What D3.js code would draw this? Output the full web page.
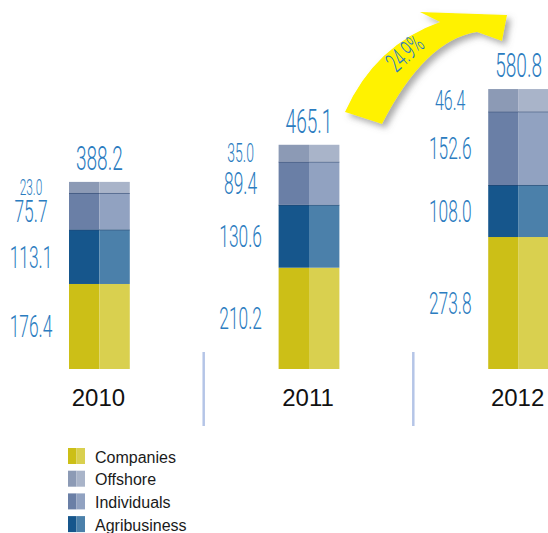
<!DOCTYPE html>
<html>
<head>
<meta charset="utf-8">
<script src="https://cdn.jsdelivr.net/npm/d3@7"></script>
<style>
  body { margin: 0; background: #fff; }
  svg { display: block; }
</style>
</head>
<body>
<svg width="548" height="533"></svg>
<script>
// data
var years = ["2010", "2011", "2012"];
var stackOrder = ["Companies", "Agribusiness", "Individuals", "Offshore"];
var legendOrder = ["Companies", "Offshore", "Individuals", "Agribusiness"];
var companies = [176.4, 210.2, 273.8];
var agribusiness = [113.1, 130.6, 108.0];
var individuals = [75.7, 89.4, 152.6];
var offshore = [23.0, 35.0, 46.4];
var totals = ["388.2", "465.1", "580.8"];
var growthLabel = "24.9%";

var colors = {
    Companies: ["#ccbf17", "#d9d04f"],
    Agribusiness: ["#16568c", "#4b80aa"],
    Individuals: ["#6a7fa6", "#91a2c1"],
    Offshore: ["#8c9ab5", "#a9b4c9"]
};

var rows = years.map(function (y, i) {
    return {
        year: y,
        Companies: companies[i],
        Agribusiness: agribusiness[i],
        Individuals: individuals[i],
        Offshore: offshore[i],
        total: totals[i]
    };
});

var svg = d3.select("svg");
var blue = "#2b7cc0";
var numFont = "Roboto, 'DejaVu Sans', sans-serif";
var squeeze = 0.56;

var x = d3.scaleBand().domain(years).range([69, 549]).paddingInner(0.71).paddingOuter(0);
var y = d3.scaleLinear().domain([0, 600]).range([369, 369 - 0.482 * 600]);
var bw = x.bandwidth();

var series = d3.stack().keys(stackOrder)(rows);

// label size shrinks for thin segments
function labelSize(d) {
    var h = y(d[0]) - y(d[1]);
    return Math.min(31, 14 + h * 0.65);
}

// arrow first so labels sit on top
var defs = svg.append("defs");
var f = defs.append("filter").attr("id", "shadow").attr("x", "-20%").attr("y", "-20%")
    .attr("width", "150%").attr("height", "150%");
f.append("feDropShadow").attr("dx", 4).attr("dy", 4).attr("stdDeviation", 3)
    .attr("flood-color", "#666").attr("flood-opacity", 0.55);

svg.append("path")
    .attr("d", "M345,112 Q375,45 440,22 L420,12 L507,15 L502,41 L477,32 Q425,40 382,124 Z")
    .attr("fill", "#fff200")
    .attr("filter", "url(#shadow)");

svg.append("text")
    .attr("transform", "translate(411,60) rotate(-42) scale(" + squeeze + ",1)")
    .attr("text-anchor", "middle")
    .attr("font-family", numFont)
    .attr("font-weight", 300)
    .attr("font-size", 27)
    .attr("fill", blue)
    .text(growthLabel);

// bars: each segment is a darker left half and a lighter right half
var layer = svg.append("g").selectAll("g")
    .data(series)
    .enter()
    .append("g");

layer.selectAll("rect.l")
    .data(function (s) { return s.map(function (d) { d.key = s.key; return d; }); })
    .enter()
    .append("rect")
    .attr("class", "l")
    .attr("x", function (d) { return x(d.data.year); })
    .attr("y", function (d) { return y(d[1]); })
    .attr("width", bw / 2)
    .attr("height", function (d) { return y(d[0]) - y(d[1]); })
    .attr("fill", function (d) { return colors[d.key][0]; });

layer.selectAll("rect.r")
    .data(function (s) { return s; })
    .enter()
    .append("rect")
    .attr("class", "r")
    .attr("x", function (d) { return x(d.data.year) + bw / 2; })
    .attr("y", function (d) { return y(d[1]); })
    .attr("width", bw / 2)
    .attr("height", function (d) { return y(d[0]) - y(d[1]); })
    .attr("fill", function (d) { return colors[d.key][1]; });

// thin dark borders between the blue-ish segments
layer.filter(function (s) { return s.key === "Individuals" || s.key === "Offshore"; })
    .selectAll("line")
    .data(function (s) { return s; })
    .enter()
    .append("line")
    .attr("x1", function (d) { return x(d.data.year); })
    .attr("x2", function (d) { return x(d.data.year) + bw; })
    .attr("y1", function (d) { return y(d[0]) + 0.5; })
    .attr("y2", function (d) { return y(d[0]) + 0.5; })
    .attr("stroke", "#233c66")
    .attr("stroke-opacity", 0.5);

// segment labels, to the left of each bar
layer.selectAll("text")
    .data(function (s) { return s; })
    .enter()
    .append("text")
    .attr("transform", function (d) {
        var fs = labelSize(d);
        var cy = (y(d[0]) + y(d[1])) / 2 + 0.355 * fs;
        return "translate(" + (x(d.data.year) - 38) + "," + cy + ") scale(" + squeeze + ",1)";
    })
    .attr("text-anchor", "middle")
    .attr("font-family", numFont)
    .attr("font-weight", 300)
    .attr("font-size", labelSize)
    .attr("fill", blue)
    .text(function (d) { return (d[1] - d[0]).toFixed(1); });

// totals above bars
svg.append("g").selectAll("text")
    .data(rows)
    .enter()
    .append("text")
    .attr("transform", function (d) {
        var top = y(d.Companies + d.Agribusiness + d.Individuals + d.Offshore);
        return "translate(" + (x(d.year) + bw / 2) + "," + (top - 12) + ") scale(" + squeeze + ",1)";
    })
    .attr("text-anchor", "middle")
    .attr("font-family", numFont)
    .attr("font-weight", 300)
    .attr("font-size", 34)
    .attr("fill", blue)
    .text(function (d) { return d.total; });

// year labels
svg.append("g").selectAll("text")
    .data(years)
    .enter()
    .append("text")
    .attr("x", function (d) { return x(d) + bw / 2 - 1; })
    .attr("y", 406)
    .attr("text-anchor", "middle")
    .attr("font-family", "'Liberation Sans', Arial, sans-serif")
    .attr("font-size", 24)
    .attr("fill", "#111")
    .text(function (d) { return d; });

// separators between years
svg.append("g").selectAll("line")
    .data(years.slice(1))
    .enter()
    .append("line")
    .attr("x1", function (d) { return x(d) - x.step() * x.paddingInner() / 2 - 0.5; })
    .attr("x2", function (d) { return x(d) - x.step() * x.paddingInner() / 2 - 0.5; })
    .attr("y1", 352)
    .attr("y2", 426)
    .attr("stroke", "#b5c5e7")
    .attr("stroke-width", 2.5);

// legend
var leg = svg.append("g").selectAll("g")
    .data(legendOrder)
    .enter()
    .append("g")
    .attr("transform", function (d, i) { return "translate(68," + (448 + i * 22.7) + ")"; });

leg.append("rect").attr("width", 8.5).attr("height", 16)
    .attr("fill", function (d) { return colors[d][0]; });
leg.append("rect").attr("x", 8.5).attr("width", 8.5).attr("height", 16)
    .attr("fill", function (d) { return colors[d][1]; });
leg.append("text")
    .attr("x", 27)
    .attr("y", 14.5)
    .attr("font-family", "'Liberation Sans', Arial, sans-serif")
    .attr("font-size", 16)
    .attr("fill", "#1a1a1a")
    .text(function (d) { return d; });
</script>
</body>
</html>
